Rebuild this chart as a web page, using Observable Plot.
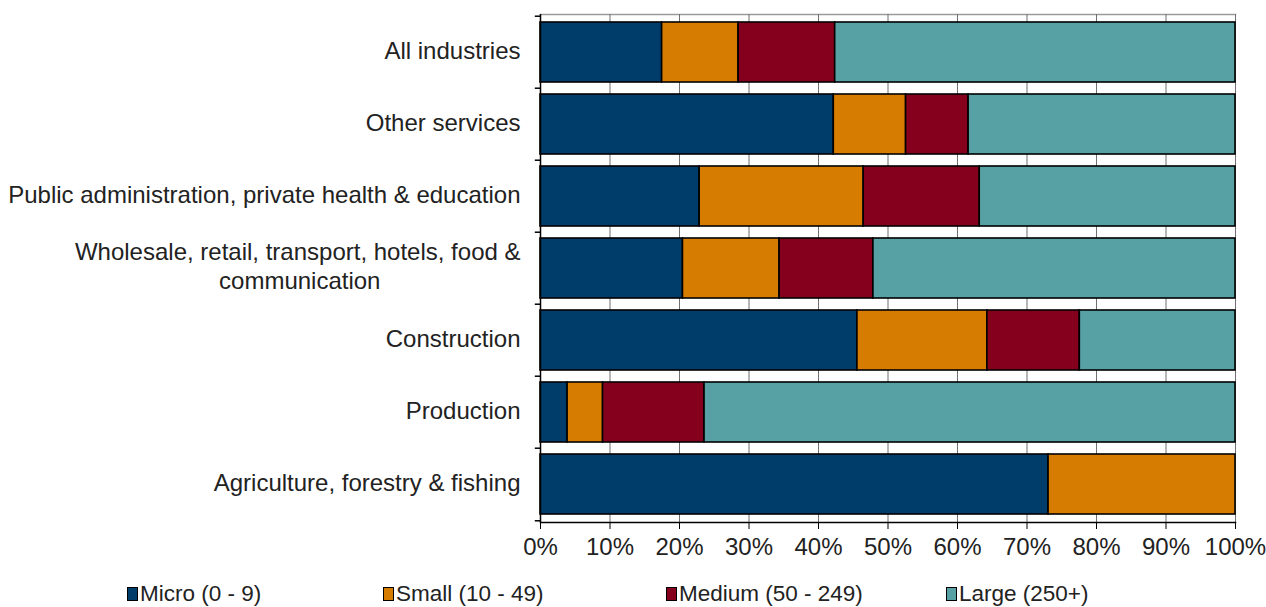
<!DOCTYPE html>
<html>
<head>
<meta charset="utf-8">
<script src="https://cdn.jsdelivr.net/npm/d3@7"></script>
<script src="https://cdn.jsdelivr.net/npm/@observablehq/plot@0.6"></script>
<style>
  html, body { margin: 0; padding: 0; background: #fff; }
  body { width: 1266px; height: 607px; overflow: hidden; font-family: "Liberation Sans", Arial, sans-serif; }
  #legend { position: relative; height: 37px; font-size: 22.5px; color: #222; }
  .item { position: absolute; top: 12px; display: flex; align-items: center; line-height: 24px; white-space: nowrap; }
  .sw { width: 9px; height: 12px; border: 1.5px solid #000; margin-right: 2px; }
</style>
</head>
<body>
<div id="chart"></div>
<div id="legend"></div>
<script>
const categories = [
  "All industries",
  "Other services",
  "Public administration, private health & education",
  "Wholesale, retail, transport, hotels, food &\ncommunication\u00A0\u00A0\u00A0\u00A0\u00A0\u00A0\u00A0\u00A0\u00A0\u00A0\u00A0\u00A0\u00A0\u00A0\u00A0\u00A0\u00A0\u00A0\u00A0\u00A0\u00A0",
  "Construction",
  "Production",
  "Agriculture, forestry & fishing"
];
const sizeBands = ["Micro (0 - 9)", "Small (10 - 49)", "Medium (50 - 249)", "Large (250+)"];
const colors = ["#003d6b", "#d67c00", "#85001c", "#57a0a3"];
// shares (%) per category, in sizeBands order
const micro  = [17.5, 42.2, 22.9, 20.5, 45.6,  3.9, 73.1];
const small  = [11.0, 10.4, 23.6, 13.9, 18.7,  5.1, 26.9];
const medium = [13.9,  9.0, 16.7, 13.5, 13.3, 14.6,  0.0];
const large  = [57.6, 38.4, 36.8, 52.1, 22.4, 76.4,  0.0];
const xTicks = [0, 0.1, 0.2, 0.3, 0.4, 0.5, 0.6, 0.7, 0.8, 0.9, 1.0];

const series = [micro, small, medium, large];
const data = [];
categories.forEach((c, i) => {
  series.forEach((s, j) => {
    if (s[i] > 0) data.push({category: c, band: sizeBands[j], value: s[i] / 100});
  });
});

const height = 570;
const marginTop = 14, marginBottom = 48;
const step = (height - marginTop - marginBottom) / categories.length;

const chart = Plot.plot({
  width: 1266,
  height,
  marginLeft: 540,
  marginRight: 31,
  marginTop,
  marginBottom,
  style: {fontFamily: "Liberation Sans, Arial, sans-serif", fontSize: "24px", color: "#222", background: "#fff"},
  x: {domain: [0, 1], ticks: xTicks},
  y: {domain: categories, padding: 0},
  color: {domain: sizeBands, range: colors},
  marks: [
    Plot.frame({anchor: "top", stroke: "#9a9a9a", strokeWidth: 1.5}),
    Plot.ruleX(xTicks, {stroke: "#6f6f6f", strokeWidth: 1}),
    Plot.barX(data, Plot.stackX({
      x: "value", y: "category", fill: "band", order: sizeBands,
      stroke: "#000", strokeWidth: 1.6, insetTop: 6, insetBottom: 6
    })),
    Plot.ruleX([0], {stroke: "#000", strokeWidth: 1.5}),
    Plot.frame({anchor: "bottom", stroke: "#000", strokeWidth: 1.5}),
    // y tick marks at band boundaries
    Plot.ruleY(categories, {y: d => d, x1: -0.0075, x2: 0, dy: -step / 2, stroke: "#000", strokeWidth: 1.5, clip: false}),
    Plot.ruleY([categories[categories.length - 1]], {x1: -0.0075, x2: 0, dy: step / 2, stroke: "#000", strokeWidth: 1.5}),
    Plot.axisX({ticks: xTicks, tickFormat: d3.format(".0%"), tickSize: 7, tickPadding: 8, stroke: "#000", fontSize: 24, fill: "#222", label: null}),
    Plot.axisY({tickSize: 0, tickPadding: 20, textAnchor: "end", lineHeight: 1.17, dy: -3, fontSize: 24, fill: "#222", label: null})
  ]
});
document.getElementById("chart").appendChild(chart);

const legend = document.getElementById("legend");
const lefts = [127, 383, 666, 946];
sizeBands.forEach((b, i) => {
  const it = document.createElement("div");
  it.className = "item";
  it.style.left = lefts[i] + "px";
  const sw = document.createElement("span");
  sw.className = "sw";
  sw.style.background = colors[i];
  const t = document.createElement("span");
  t.textContent = b;
  it.appendChild(sw);
  it.appendChild(t);
  legend.appendChild(it);
});
</script>
</body>
</html>
